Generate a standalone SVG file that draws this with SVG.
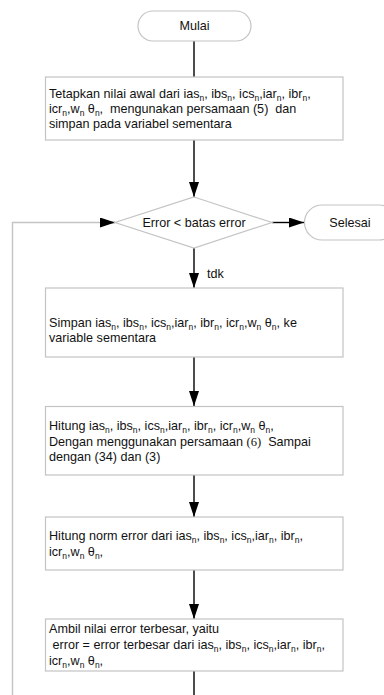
<svg xmlns="http://www.w3.org/2000/svg" width="384" height="695" viewBox="0 0 384 695">
  <defs>
    <marker id="ah" viewBox="0 0 15 10" refX="15" refY="5" markerWidth="15" markerHeight="10" markerUnits="userSpaceOnUse" orient="auto">
      <path d="M0,0 L15,5 L0,10 Z" fill="#000"/>
    </marker>
    <style>
      .box{fill:#fff;stroke:#c4c4c4;stroke-width:1.2}
      .t{font-family:"Liberation Sans",Arial,sans-serif;font-size:12.6px;fill:#111;white-space:pre}
      .c{text-anchor:middle}
      .s{font-size:8.5px}
      .ser{font-family:"Liberation Serif","Times New Roman",serif}
      .ln{fill:none;stroke:#000;stroke-width:1.4}
      .lg{fill:none;stroke:#c4c4c4;stroke-width:1.4}
    </style>
  </defs>
  <rect width="384" height="695" fill="#fff"/>

  <!-- connectors -->
  <g id="connectors">
    <line class="ln" x1="194" y1="41" x2="194" y2="77"/>
    <line class="ln" x1="194" y1="140" x2="194" y2="197" marker-end="url(#ah)"/>
    <line class="ln" x1="272" y1="222.5" x2="304" y2="222.5" marker-end="url(#ah)"/>
    <line class="ln" x1="194" y1="248" x2="194" y2="288" marker-end="url(#ah)"/>
    <line class="ln" x1="194" y1="357" x2="194" y2="406" marker-end="url(#ah)"/>
    <line class="ln" x1="194" y1="475" x2="194" y2="517" marker-end="url(#ah)"/>
    <line class="ln" x1="194" y1="570" x2="194" y2="619" marker-end="url(#ah)"/>
    <line class="ln" x1="194" y1="671" x2="194" y2="695" stroke="#333"/>
    <!-- loop back to the decision -->
    <polyline class="lg" points="12.5,695 12.5,222.5 101,222.5"/>
    <line class="ln" x1="100" y1="222.5" x2="115" y2="222.5" marker-end="url(#ah)"/>
    <text class="t" x="207" y="277.5">tdk</text>
  </g>

  <g id="mulai">
    <rect class="box" x="138" y="11" width="113" height="30" rx="15" ry="15"/>
    <text class="t c" x="194.5" y="30">Mulai</text>
  </g>

  <g id="init">
    <rect class="box" x="45.5" y="77" width="297.5" height="63"/>
    <text class="t" x="49" y="97.5">Tetapkan nilai awal dari ias<tspan class="s" dy="3">n</tspan><tspan dy="-3">, ibs</tspan><tspan class="s" dy="3">n</tspan><tspan dy="-3">, ics</tspan><tspan class="s" dy="3">n</tspan><tspan dy="-3">,iar</tspan><tspan class="s" dy="3">n</tspan><tspan dy="-3">, ibr</tspan><tspan class="s" dy="3">n</tspan><tspan dy="-3">,</tspan></text>
    <text class="t" x="49" y="112.5">icr<tspan class="s" dy="3">n</tspan><tspan dy="-3">,w</tspan><tspan class="s" dy="3">n</tspan><tspan dy="-3"> θ</tspan><tspan class="s" dy="3">n</tspan><tspan dy="-3">,  mengunakan persamaan (5)  dan</tspan></text>
    <text class="t" x="49" y="127.5">simpan pada variabel sementara</text>
  </g>

  <g id="decision">
    <polygon class="box" points="194,197 272,222.5 194,248 115,222.5"/>
    <text class="t c" x="194" y="227">Error &lt; batas error</text>
  </g>

  <g id="selesai">
    <rect class="box" x="304.5" y="205" width="92" height="35" rx="17.5" ry="17.5"/>
    <text class="t c" x="350" y="227">Selesai</text>
  </g>

  <g id="simpan">
    <rect class="box" x="45.5" y="288" width="297.5" height="69"/>
    <text class="t" x="49" y="326.5">Simpan ias<tspan class="s" dy="3">n</tspan><tspan dy="-3">, ibs</tspan><tspan class="s" dy="3">n</tspan><tspan dy="-3">, ics</tspan><tspan class="s" dy="3">n</tspan><tspan dy="-3">,iar</tspan><tspan class="s" dy="3">n</tspan><tspan dy="-3">, ibr</tspan><tspan class="s" dy="3">n</tspan><tspan dy="-3">, icr</tspan><tspan class="s" dy="3">n</tspan><tspan dy="-3">,w</tspan><tspan class="s" dy="3">n</tspan><tspan dy="-3"> θ</tspan><tspan class="s" dy="3">n</tspan><tspan dy="-3">, ke</tspan></text>
    <text class="t" x="49" y="342">variable sementara</text>
  </g>

  <g id="hitung">
    <rect class="box" x="45.5" y="406.5" width="297.5" height="68.5"/>
    <text class="t" x="49" y="430">Hitung ias<tspan class="s" dy="3">n</tspan><tspan dy="-3">, ibs</tspan><tspan class="s" dy="3">n</tspan><tspan dy="-3">, ics</tspan><tspan class="s" dy="3">n</tspan><tspan dy="-3">,iar</tspan><tspan class="s" dy="3">n</tspan><tspan dy="-3">, ibr</tspan><tspan class="s" dy="3">n</tspan><tspan dy="-3">, icr</tspan><tspan class="s" dy="3">n</tspan><tspan dy="-3">,w</tspan><tspan class="s" dy="3">n</tspan><tspan dy="-3"> θ</tspan><tspan class="s" dy="3">n</tspan><tspan dy="-3">,</tspan></text>
    <text class="t" x="49" y="445.5">Dengan menggunakan persamaan <tspan class="ser">(6)</tspan>  Sampai</text>
    <text class="t" x="49" y="461">dengan (34) dan (3)</text>
  </g>

  <g id="norm">
    <rect class="box" x="45.5" y="517" width="297.5" height="53"/>
    <text class="t" x="49" y="539.5">Hitung norm error dari ias<tspan class="s" dy="3">n</tspan><tspan dy="-3">, ibs</tspan><tspan class="s" dy="3">n</tspan><tspan dy="-3">, ics</tspan><tspan class="s" dy="3">n</tspan><tspan dy="-3">,iar</tspan><tspan class="s" dy="3">n</tspan><tspan dy="-3">, ibr</tspan><tspan class="s" dy="3">n</tspan><tspan dy="-3">,</tspan></text>
    <text class="t" x="49" y="555.5">icr<tspan class="s" dy="3">n</tspan><tspan dy="-3">,w</tspan><tspan class="s" dy="3">n</tspan><tspan dy="-3"> θ</tspan><tspan class="s" dy="3">n</tspan><tspan dy="-3">,</tspan></text>
  </g>

  <g id="ambil">
    <rect class="box" x="45.5" y="619" width="297.5" height="52"/>
    <text class="t" x="49" y="633">Ambil nilai error terbesar, yaitu</text>
    <text class="t" x="49" y="649"> error = error terbesar dari ias<tspan class="s" dy="3">n</tspan><tspan dy="-3">, ibs</tspan><tspan class="s" dy="3">n</tspan><tspan dy="-3">, ics</tspan><tspan class="s" dy="3">n</tspan><tspan dy="-3">,iar</tspan><tspan class="s" dy="3">n</tspan><tspan dy="-3">, ibr</tspan><tspan class="s" dy="3">n</tspan><tspan dy="-3">,</tspan></text>
    <text class="t" x="49" y="664.5">icr<tspan class="s" dy="3">n</tspan><tspan dy="-3">,w</tspan><tspan class="s" dy="3">n</tspan><tspan dy="-3"> θ</tspan><tspan class="s" dy="3">n</tspan><tspan dy="-3">,</tspan></text>
  </g>
</svg>
